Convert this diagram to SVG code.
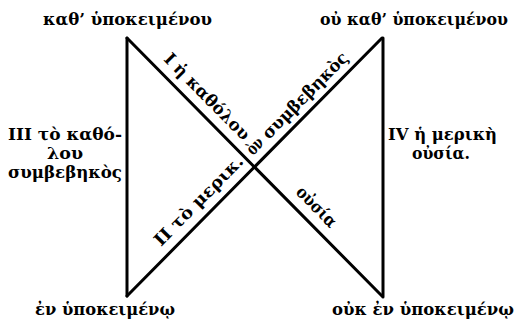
<svg xmlns="http://www.w3.org/2000/svg" width="523" height="324" viewBox="0 0 523 324">
<style>
text{font-family:"DejaVu Serif","Liberation Serif",serif;font-weight:bold;font-size:17px;fill:#000}
.ln{stroke:#000;stroke-width:3;fill:none;stroke-linecap:round}
</style>
<rect width="523" height="324" fill="#fff"/>
<g id="connectors">
<line class="ln" x1="127" y1="38" x2="127" y2="296"/>
<line class="ln" x1="383" y1="38" x2="383" y2="297"/>
<line class="ln" x1="127" y1="38" x2="382" y2="296"/>
<line class="ln" x1="382" y1="38" x2="127" y2="296"/>
</g>
<g id="diag-labels">
<text transform="translate(163,60) rotate(45.4)" textLength="114" lengthAdjust="spacingAndGlyphs">Ι ἡ καθόλου</text>
<text transform="translate(295,193) rotate(45.4)" textLength="50" lengthAdjust="spacingAndGlyphs">οὐσία</text>
<text transform="translate(161,247) rotate(-45.4)" textLength="119" lengthAdjust="spacingAndGlyphs">II τὸ μερικ.</text>
<text transform="translate(253,156) rotate(-45.4)" textLength="17" lengthAdjust="spacingAndGlyphs">ὸν</text>
<text transform="translate(269,140) rotate(-45.4)" textLength="114" lengthAdjust="spacingAndGlyphs">συμβεβηκὸς</text>
</g>
<g id="top-left"><text x="43" y="25" textLength="169" lengthAdjust="spacingAndGlyphs">καθ’ ὑποκειμένου</text></g>
<g id="top-right"><text x="320" y="25" font-size="16" textLength="188" lengthAdjust="spacingAndGlyphs">οὐ καθ’ ὑποκειμένου</text></g>
<g id="left">
<text x="8" y="140" textLength="114" lengthAdjust="spacingAndGlyphs">III τὸ καθό-</text>
<text x="47" y="159" textLength="36" lengthAdjust="spacingAndGlyphs">λου</text>
<text x="8" y="178" textLength="114" lengthAdjust="spacingAndGlyphs">συμβεβηκὸς</text>
</g>
<g id="right">
<text x="388" y="140" textLength="109" lengthAdjust="spacingAndGlyphs">IV ἡ μερικὴ</text>
<text x="412" y="159" textLength="58" lengthAdjust="spacingAndGlyphs">οὐσία.</text>
</g>
<g id="bottom-left"><text x="35" y="315" textLength="140" lengthAdjust="spacingAndGlyphs">ἐν ὑποκειμένῳ</text></g>
<g id="bottom-right"><text x="332" y="315" textLength="182" lengthAdjust="spacingAndGlyphs">οὐκ ἐν ὑποκειμένῳ</text></g>
</svg>
